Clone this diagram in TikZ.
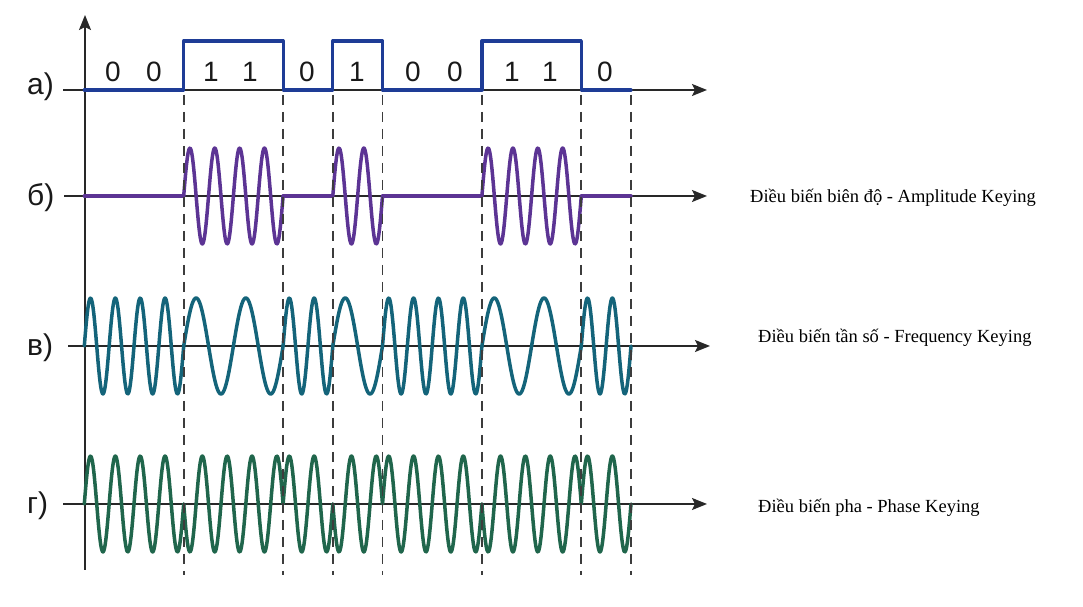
\documentclass[tikz,border=0pt]{standalone}
\usepackage{fontspec}
\setmainfont{Liberation Serif}
\newfontfamily\labelfont{Liberation Sans}
\usepackage{tikz}
\usetikzlibrary{arrows.meta}

\definecolor{sqblue}{RGB}{30,60,150}
\definecolor{askpurple}{RGB}{92,52,148}
\definecolor{fskteal}{RGB}{20,100,122}
\definecolor{pskgreen}{RGB}{32,102,76}
\definecolor{axisgray}{RGB}{40,40,40}
\definecolor{dashgray}{RGB}{60,60,60}

\begin{document}
\begin{tikzpicture}[x=1pt,y=1pt,
    axis/.style={draw=axisgray,line width=1.6pt},
    axisarrow/.style={axis,-{Stealth[length=15pt,width=12pt,inset=3pt]}},
    bitline/.style={draw=dashgray,line width=1.7pt,dash pattern=on 10pt off 7pt},
    signal/.style={line width=3.5pt,line join=round,line cap=round},
    rowlabel/.style={font=\labelfont\fontsize{30}{30}\selectfont,anchor=base west,inner sep=0pt,text=black!90},
    bitlabel/.style={font=\labelfont\fontsize{28}{28}\selectfont,anchor=base,inner sep=0pt,text=black!90},
    keying/.style={font=\fontsize{18.5}{18.5}\selectfont,anchor=base west,inner sep=0pt}]

    \def\xo{84.3} \def\w{49.7} \def\amp{48}
    \def\rowa{517} \def\rowb{411} \def\rowc{261} \def\rowd{103}
    \def\bits{0,0,1,1,0,1,0,0,1,1,0}

    \useasboundingbox (0,0) rectangle (1083,607);
    \fill[white] (0,0) rectangle (1083,607);

    % axes
    \coordinate (ybot) at (85,37);
    \coordinate (ytop) at (85,592);
    \draw[axisarrow] (ybot) -- (ytop);
    \foreach \name/\y/\xs/\xe in {a/\rowa/63/707, b/\rowb/64/707, c/\rowc/68/710, d/\rowd/63/707}{
      \coordinate (ax\name-s) at (\xs,\y);
      \coordinate (ax\name-e) at (\xe,\y);
      \draw[axisarrow] (ax\name-s) -- (ax\name-e);
    }

    % a) data
    \draw[signal,line width=3.2pt,draw=sqblue] (\xo,\rowa) foreach \b [count=\k from 0] in \bits
      {-- ({\xo+\k*\w},{\rowa+49*\b}) -- ({\xo+(\k+1)*\w},{\rowa+49*\b})};
    % b) amplitude
    \foreach \b [count=\k from 0] in \bits
      \draw[signal,draw=askpurple] plot[domain=0:\w,samples=70]
        ({\xo+\k*\w+\x},{\rowb+\amp*\b*sin((720/\w)*\x)});
    % c) frequency
    \foreach \b [count=\k from 0] in \bits
      \draw[signal,draw=fskteal] plot[domain=0:\w,samples=70]
        ({\xo+\k*\w+\x},{\rowc+\amp*sin(((720-360*\b)/\w)*\x)});
    % d) phase
    \foreach \b [count=\k from 0] in \bits
      \draw[signal,draw=pskgreen] plot[domain=0:\w,samples=70]
        ({\xo+\k*\w+\x},{\rowd+\amp*(1-2*\b)*sin((720/\w)*\x)});

    % bit edges
    \foreach \k in {2,4,5,6,8,10,11}{
      \coordinate (edge\k-t) at ({\xo+\k*\w},512);
      \coordinate (edge\k-b) at ({\xo+\k*\w},32);
      \draw[bitline] (edge\k-t) -- (edge\k-b);
    }

    % labels
    \node[rowlabel] (lab-a) at (27,512) {а)};
    \node[rowlabel] (lab-b) at (27,401) {б)};
    \node[rowlabel] (lab-c) at (27,251) {в)};
    \node[rowlabel] (lab-d) at (27,93) {г)};
    \foreach \xd/\b [count=\k] in {113/0,154/0,211/1,250/1,307/0,357/1,413/0,455/0,512/1,550/1,605/0}
      \node[bitlabel] (bit\k) at (\xd,525) {\b};

    \node[keying] (ask-text) at (750,404) {Điều biến biên độ - Amplitude Keying};
    \node[keying] (fsk-text) at (758,264) {Điều biến tần số - Frequency Keying};
    \node[keying] (psk-text) at (758,94) {Điều biến pha - Phase Keying};
  \end{tikzpicture}
\end{document}
